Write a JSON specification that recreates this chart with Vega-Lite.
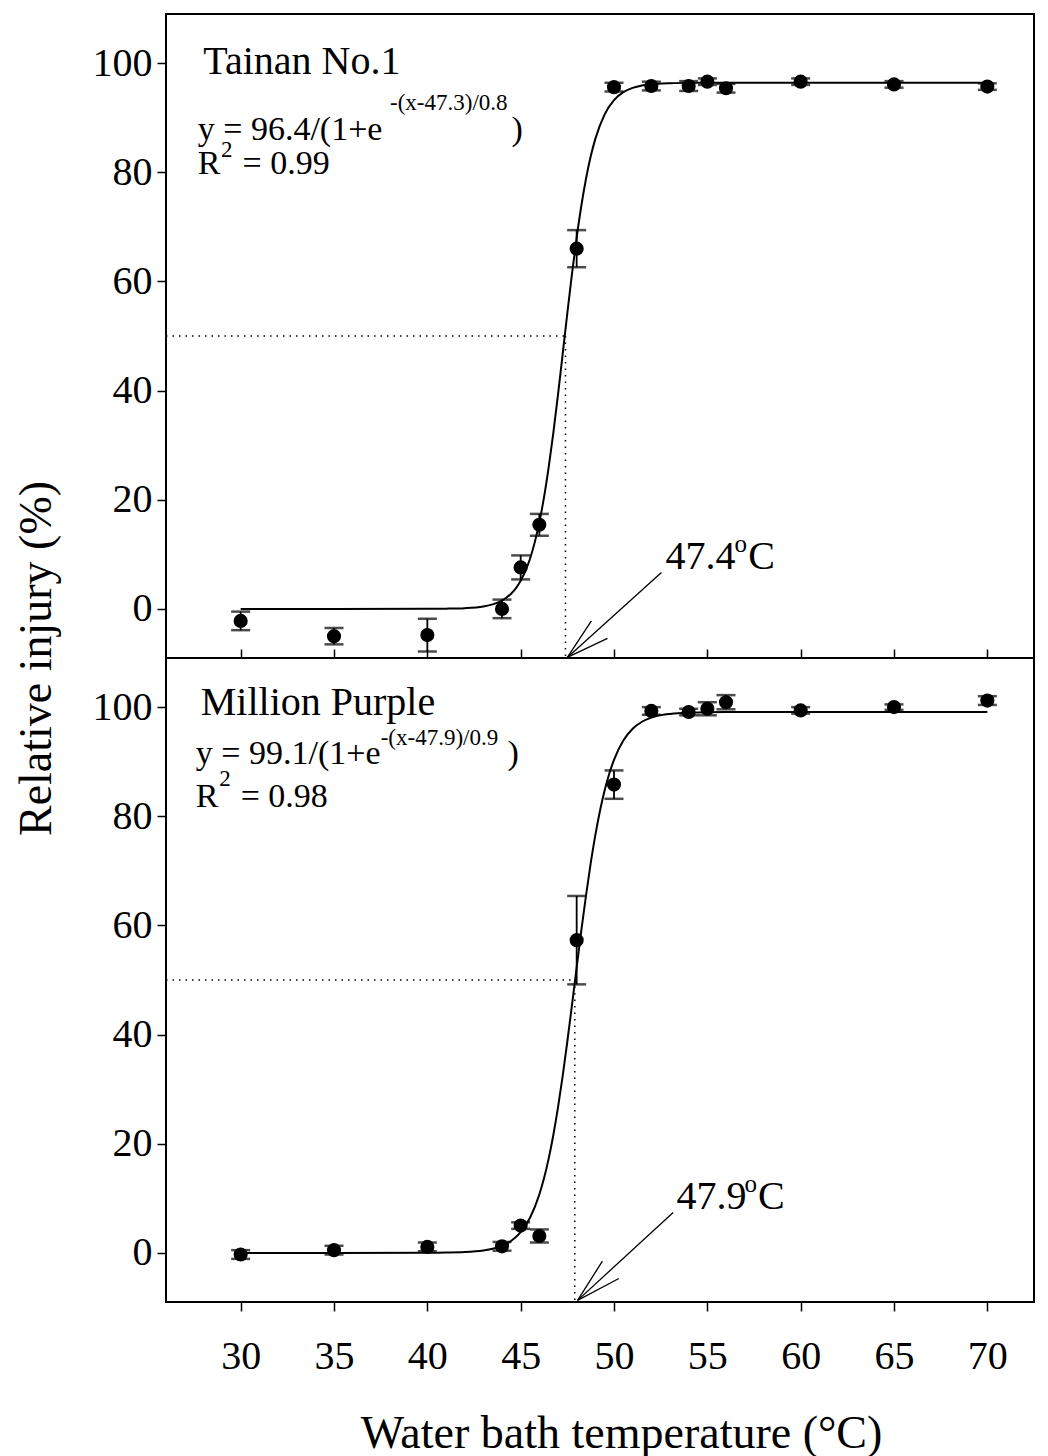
{
  "$schema": "https://vega.github.io/schema/vega-lite/v6.json",
  "padding": {"left": 12, "top": 13, "right": 15, "bottom": 2},
  "background": "white",
  "spacing": 0,
  "bounds": "flush",
  "config": {
    "font": "Liberation Serif",
    "view": {"stroke": "black", "strokeWidth": 2},
    "axis": {"grid": false, "domain": false, "labelFont": "Liberation Serif", "labelFontSize": 40, "labelColor": "black", "tickColor": "black", "tickWidth": 1.5, "titleFont": "Liberation Serif", "titleFontSize": 46, "titleFontWeight": "normal", "titleColor": "black"},
    "text": {"font": "Liberation Serif", "color": "black"}
  },
  "datasets": {
    "ptsT": [
      {"x": 30, "y": -2.2, "err": 1.7}, {"x": 35, "y": -5.0, "err": 1.5}, {"x": 40, "y": -4.8, "err": 3.0},
      {"x": 44, "y": 0.0, "err": 1.7}, {"x": 45, "y": 7.6, "err": 2.2}, {"x": 46, "y": 15.4, "err": 2.0},
      {"x": 48, "y": 66.0, "err": 3.4}, {"x": 50, "y": 95.6, "err": 0.8}, {"x": 52, "y": 95.8, "err": 0.8},
      {"x": 54, "y": 95.8, "err": 0.9}, {"x": 55, "y": 96.6, "err": 0.6}, {"x": 56, "y": 95.4, "err": 0.8},
      {"x": 60, "y": 96.6, "err": 0.6}, {"x": 65, "y": 96.1, "err": 0.6}, {"x": 70, "y": 95.7, "err": 0.6}
    ],
    "ptsM": [
      {"x": 30, "y": -0.3, "err": 0.8}, {"x": 35, "y": 0.5, "err": 0.8}, {"x": 40, "y": 1.1, "err": 0.8},
      {"x": 44, "y": 1.2, "err": 0.8}, {"x": 45, "y": 5.0, "err": 0.6}, {"x": 46, "y": 3.1, "err": 1.2},
      {"x": 48, "y": 57.3, "err": 8.1}, {"x": 50, "y": 85.8, "err": 2.6}, {"x": 52, "y": 99.3, "err": 0.7},
      {"x": 54, "y": 99.1, "err": 0.6}, {"x": 55, "y": 99.7, "err": 1.2}, {"x": 56, "y": 100.9, "err": 1.3},
      {"x": 60, "y": 99.4, "err": 0.6}, {"x": 65, "y": 100.0, "err": 0.5}, {"x": 70, "y": 101.2, "err": 0.8}
    ],
    "curveT": [
      {"x": 30, "y": 0.0}, {"x": 35, "y": 0.0}, {"x": 40, "y": 0.01}, {"x": 41, "y": 0.04}, {"x": 42, "y": 0.13},
      {"x": 43, "y": 0.44}, {"x": 43.5, "y": 0.83}, {"x": 44, "y": 1.53}, {"x": 44.5, "y": 2.83}, {"x": 44.75, "y": 3.82},
      {"x": 45, "y": 5.15}, {"x": 45.25, "y": 6.90}, {"x": 45.5, "y": 9.19}, {"x": 45.75, "y": 12.14}, {"x": 46, "y": 15.86},
      {"x": 46.25, "y": 20.44}, {"x": 46.5, "y": 25.93}, {"x": 46.75, "y": 32.25}, {"x": 47, "y": 39.27}, {"x": 47.25, "y": 46.69},
      {"x": 47.5, "y": 54.19}, {"x": 47.75, "y": 61.41}, {"x": 48, "y": 68.04}, {"x": 48.25, "y": 73.87}, {"x": 48.5, "y": 78.82},
      {"x": 48.75, "y": 82.88}, {"x": 49, "y": 86.12}, {"x": 49.5, "y": 90.61}, {"x": 50, "y": 93.21}, {"x": 50.5, "y": 94.67},
      {"x": 51, "y": 95.46}, {"x": 51.5, "y": 95.90}, {"x": 52, "y": 96.13}, {"x": 53, "y": 96.32}, {"x": 54, "y": 96.38},
      {"x": 56, "y": 96.4}, {"x": 60, "y": 96.4}, {"x": 65, "y": 96.4}, {"x": 70, "y": 96.4}
    ],
    "curveM": [
      {"x": 30, "y": 0.0}, {"x": 35, "y": 0.0}, {"x": 40, "y": 0.02}, {"x": 41, "y": 0.05}, {"x": 42, "y": 0.14},
      {"x": 43, "y": 0.43}, {"x": 43.5, "y": 0.74}, {"x": 44, "y": 1.28}, {"x": 44.5, "y": 2.22}, {"x": 45, "y": 3.80},
      {"x": 45.5, "y": 6.44}, {"x": 46, "y": 10.71}, {"x": 46.25, "y": 13.66}, {"x": 46.5, "y": 17.27}, {"x": 46.75, "y": 21.60},
      {"x": 47, "y": 26.65}, {"x": 47.25, "y": 32.40}, {"x": 47.5, "y": 38.73}, {"x": 47.75, "y": 45.44}, {"x": 48, "y": 52.30},
      {"x": 48.25, "y": 59.07}, {"x": 48.5, "y": 65.48}, {"x": 48.75, "y": 71.35}, {"x": 49, "y": 76.55}, {"x": 49.25, "y": 81.02},
      {"x": 49.5, "y": 84.77}, {"x": 49.75, "y": 87.85}, {"x": 50, "y": 90.34}, {"x": 50.5, "y": 93.88}, {"x": 51, "y": 96.04},
      {"x": 51.5, "y": 97.32}, {"x": 52, "y": 98.07}, {"x": 53, "y": 98.76}, {"x": 54, "y": 98.99}, {"x": 56, "y": 99.09},
      {"x": 60, "y": 99.1}, {"x": 65, "y": 99.1}, {"x": 70, "y": 99.1}
    ],
    "dotT": [{"x": 26, "x2": 47.4, "y": 50, "y2": 50}, {"x": 47.4, "x2": 47.4, "y": 50, "y2": -9}],
    "dotM": [{"x": 26, "x2": 47.9, "y": 50, "y2": 50}, {"x": 47.9, "x2": 47.9, "y": 50, "y2": -9}],
    "arrT": [
      {"x": 52.54, "y": 6.65, "x2": 47.5, "y2": -8.9},
      {"x": 48.79, "y": -2.2, "x2": 47.5, "y2": -8.9},
      {"x": 49.65, "y": -5.4, "x2": 47.5, "y2": -8.9}
    ],
    "arrM": [
      {"x": 53.17, "y": 7.4, "x2": 48.05, "y2": -8.7},
      {"x": 49.38, "y": -1.5, "x2": 48.05, "y2": -8.7},
      {"x": 50.26, "y": -4.7, "x2": 48.05, "y2": -8.7}
    ],
    "titleT": [{"x": 28.0, "y": 98.0, "t": "Tainan No.1"}],
    "titleM": [{"x": 27.86, "y": 98.54, "t": "Million Purple"}],
    "eqT": [
      {"x": 27.7, "y": 85.9, "t": "y = 96.4/(1+e"}, {"x": 44.51, "y": 85.9, "t": ")"},
      {"x": 27.7, "y": 79.6, "t": "R"}, {"x": 30.1, "y": 79.6, "t": "= 0.99"}
    ],
    "eqM": [
      {"x": 27.6, "y": 89.55, "t": "y = 99.1/(1+e"}, {"x": 44.3, "y": 89.55, "t": ")"},
      {"x": 27.6, "y": 81.7, "t": "R"}, {"x": 30.0, "y": 81.7, "t": "= 0.98"}
    ],
    "supT": [{"x": 38.0, "y": 91.4, "t": "-(x-47.3)/0.8"}, {"x": 28.95, "y": 82.8, "t": "2"}],
    "supM": [{"x": 37.5, "y": 93.0, "t": "-(x-47.9)/0.9"}, {"x": 28.85, "y": 85.5, "t": "2"}],
    "lblT": [{"x": 52.76, "y": 7.33, "t": "47.4"}, {"x": 57.19, "y": 7.33, "t": "C"}],
    "lblM": [{"x": 53.35, "y": 8.0, "t": "47.9"}, {"x": 57.72, "y": 8.0, "t": "C"}],
    "degT": [{"x": 56.46, "y": 10.45, "t": "o"}],
    "degM": [{"x": 56.99, "y": 11.2, "t": "o"}]
  },
  "vconcat": [
    {
      "width": 868,
      "height": 644,
      "encoding": {
        "x": {"field": "x", "type": "quantitative", "scale": {"domain": [26, 72.5], "nice": false, "zero": false},
          "axis": {"values": [30, 35, 40, 45, 50, 55, 60, 65, 70], "labels": false, "title": null, "tickSize": -9}},
        "y": {"field": "y", "type": "quantitative", "scale": {"domain": [-9, 109], "nice": false, "zero": false},
          "axis": {"values": [0, 20, 40, 60, 80, 100], "tickSize": 9, "labelPadding": 5, "title": "Relative injury (%)",
            "titleY": 644, "titleX": -116, "titleBaseline": "alphabetic", "titleAlign": "center", "titleAngle": 270}}
      },
      "layer": [
        {"data": {"name": "dotT"}, "mark": {"type": "rule", "color": "black", "strokeWidth": 1.5, "strokeDash": [1.5, 5]},
          "encoding": {"x2": {"field": "x2"}, "y2": {"field": "y2"}}},
        {"data": {"name": "arrT"}, "mark": {"type": "rule", "color": "black", "strokeWidth": 1.3},
          "encoding": {"x2": {"field": "x2"}, "y2": {"field": "y2"}}},
        {"data": {"name": "curveT"}, "mark": {"type": "line", "color": "black", "strokeWidth": 2, "interpolate": "monotone"}, "encoding": {}},
        {"data": {"name": "ptsT"}, "mark": {"type": "errorbar", "color": "black", "thickness": 1.8, "ticks": {"size": 19, "thickness": 2.5, "color": "black"}},
          "encoding": {"yError": {"field": "err"}}},
        {"data": {"name": "ptsT"}, "mark": {"type": "circle", "size": 200, "color": "black", "opacity": 1}, "encoding": {}},
        {"data": {"name": "titleT"}, "mark": {"type": "text", "fontSize": 40, "align": "left", "baseline": "alphabetic"}, "encoding": {"text": {"field": "t"}}},
        {"data": {"name": "eqT"}, "mark": {"type": "text", "fontSize": 34, "align": "left", "baseline": "alphabetic"}, "encoding": {"text": {"field": "t"}}},
        {"data": {"name": "supT"}, "mark": {"type": "text", "fontSize": 23, "align": "left", "baseline": "alphabetic"}, "encoding": {"text": {"field": "t"}}},
        {"data": {"name": "lblT"}, "mark": {"type": "text", "fontSize": 40, "align": "left", "baseline": "alphabetic"}, "encoding": {"text": {"field": "t"}}},
        {"data": {"name": "degT"}, "mark": {"type": "text", "fontSize": 25, "align": "left", "baseline": "alphabetic"}, "encoding": {"text": {"field": "t"}}}
      ]
    },
    {
      "width": 868,
      "height": 644,
      "encoding": {
        "x": {"field": "x", "type": "quantitative", "scale": {"domain": [26, 72.5], "nice": false, "zero": false},
          "axis": {"values": [30, 35, 40, 45, 50, 55, 60, 65, 70], "tickSize": 9, "labelPadding": 25, "title": "Water bath temperature (°C)", "titlePadding": 35, "titleX": 455}},
        "y": {"field": "y", "type": "quantitative", "scale": {"domain": [-9, 109], "nice": false, "zero": false},
          "axis": {"values": [0, 20, 40, 60, 80, 100], "tickSize": 9, "labelPadding": 5, "title": null}}
      },
      "layer": [
        {"data": {"name": "dotM"}, "mark": {"type": "rule", "color": "black", "strokeWidth": 1.5, "strokeDash": [1.5, 5]},
          "encoding": {"x2": {"field": "x2"}, "y2": {"field": "y2"}}},
        {"data": {"name": "arrM"}, "mark": {"type": "rule", "color": "black", "strokeWidth": 1.3},
          "encoding": {"x2": {"field": "x2"}, "y2": {"field": "y2"}}},
        {"data": {"name": "curveM"}, "mark": {"type": "line", "color": "black", "strokeWidth": 2, "interpolate": "monotone"}, "encoding": {}},
        {"data": {"name": "ptsM"}, "mark": {"type": "errorbar", "color": "black", "thickness": 1.8, "ticks": {"size": 19, "thickness": 2.5, "color": "black"}},
          "encoding": {"yError": {"field": "err"}}},
        {"data": {"name": "ptsM"}, "mark": {"type": "circle", "size": 200, "color": "black", "opacity": 1}, "encoding": {}},
        {"data": {"name": "titleM"}, "mark": {"type": "text", "fontSize": 40, "align": "left", "baseline": "alphabetic"}, "encoding": {"text": {"field": "t"}}},
        {"data": {"name": "eqM"}, "mark": {"type": "text", "fontSize": 34, "align": "left", "baseline": "alphabetic"}, "encoding": {"text": {"field": "t"}}},
        {"data": {"name": "supM"}, "mark": {"type": "text", "fontSize": 23, "align": "left", "baseline": "alphabetic"}, "encoding": {"text": {"field": "t"}}},
        {"data": {"name": "lblM"}, "mark": {"type": "text", "fontSize": 40, "align": "left", "baseline": "alphabetic"}, "encoding": {"text": {"field": "t"}}},
        {"data": {"name": "degM"}, "mark": {"type": "text", "fontSize": 25, "align": "left", "baseline": "alphabetic"}, "encoding": {"text": {"field": "t"}}}
      ]
    }
  ]
}
